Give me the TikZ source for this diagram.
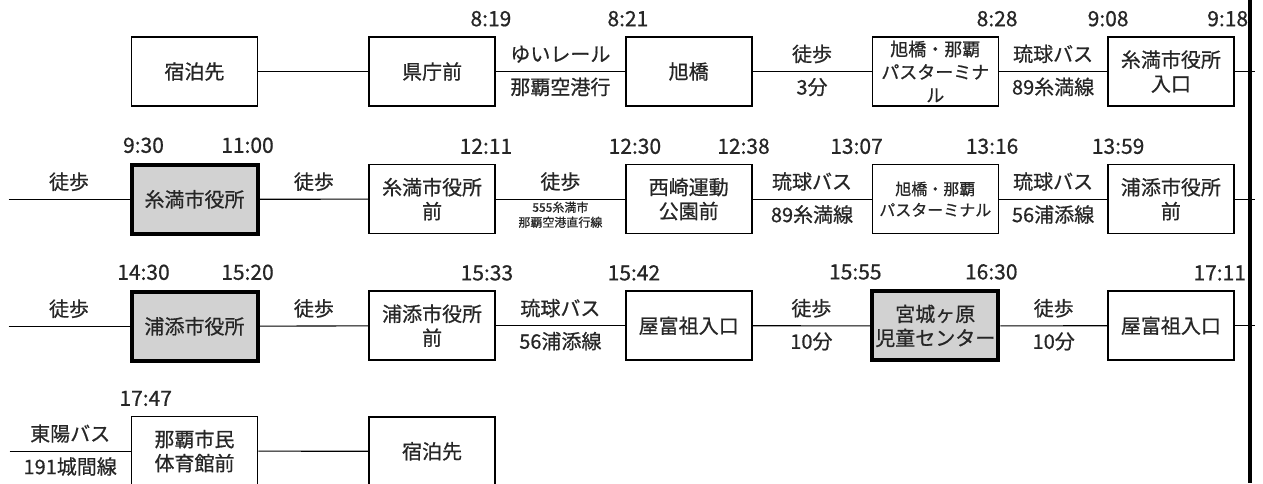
\documentclass[tikz,border=0pt]{standalone}
\usepackage{fontspec}
\setmainfont{Noto Sans CJK JP}[RawFeature={embolden=0.7}]
\usetikzlibrary{positioning}

\tikzset{
	stopbox/.style={draw, line width=1.6pt, minimum width=126pt, minimum height=69pt, inner sep=0pt, align=center, font=\fontsize{20}{24}\selectfont},
	visitbox/.style={stopbox, fill=gray!35, line width=4pt},
	clock/.style={anchor=base, yshift=10pt, inner sep=0pt, font=\fontsize{21}{24}\selectfont},
	lineabove/.style={anchor=base, yshift=10pt, inner sep=0pt, font=\fontsize{20}{24}\selectfont},
	linebelow/.style={anchor=base, yshift=-23pt, inner sep=0pt, font=\fontsize{20}{24}\selectfont},
	smallnote/.style={below, inner sep=2pt, align=center, font=\fontsize{12}{15}\selectfont}
}

\begin{document}
\begin{tikzpicture}[x=1pt, y=-1pt, every node/.style={text=black!85}, every edge/.append style={line width=1.1pt}]
		\useasboundingbox (0,0) rectangle (1263,483);
		
		\node[stopbox] (A1) at (194.5,71.5) {宿泊先};
		\node[stopbox, right = 110pt of A1] (A2) {県庁前};
		\node[stopbox, right = 129pt of A2] (A3) {旭橋};
		\node[stopbox, right = 119pt of A3, font=\fontsize{18}{23}\selectfont] (A4) {旭橋・那覇\\パスターミナ\\ル};
		\node[stopbox, right = 108pt of A4] (A5) {糸満市役所\\入口};
		\coordinate[right = 20pt of A5] (A6);
		
		\node[visitbox, below = 56pt of A1] (B1) {糸満市役所};
		\node[stopbox, below = 57pt of A2] (B2) {糸満市役所\\前};
		\node[stopbox, below = 57pt of A3] (B3) {西崎運動\\公園前};
		\node[stopbox, below = 57pt of A4, font=\fontsize{16}{21}\selectfont] (B4) {旭橋・那覇\\パスターミナル};
		\node[stopbox, below = 57pt of A5] (B5) {浦添市役所\\前};
		\coordinate[left = 121pt of B1] (B0);
		\coordinate[right = 20pt of B5] (B6);
		
		\node[visitbox, below = 54pt of B1] (C1) {浦添市役所};
		\node[stopbox, below = 56pt of B2] (C2) {浦添市役所\\前};
		\node[stopbox, below = 56pt of B3] (C3) {屋富祖入口};
		\node[visitbox, below = 55pt of B4] (C4) {宮城ヶ原\\児童センター};
		\node[stopbox, below = 56pt of B5] (C5) {屋富祖入口};
		\coordinate[left = 121pt of C1] (C0);
		\coordinate[right = 20pt of C5] (C6);
		
		\node[stopbox, below = 53pt of C1] (D1) {那覇市民\\体育館前};
		\node[stopbox, below = 55pt of C2] (D2) {宿泊先};
		\coordinate[left = 121pt of D1] (D0);
		
		\coordinate (R1) at (1250,0);
		\coordinate (R2) at (1250,483);
		\draw[line width=4pt] (R1) -- (R2);
		
		\path (A1) edge (A2);
		\path (A2) edge node[lineabove] {ゆいレール} node[linebelow] {那覇空港行} (A3);
		\path (A3) edge node[lineabove] {徒歩} node[linebelow] {3分} (A4);
		\path (A4) edge node[lineabove] {琉球バス} node[linebelow] {89糸満線} (A5);
		\path (A5) edge (A6);
		
		\path (B0) edge node[lineabove] {徒歩} (B1);
		\path (B1) edge node[lineabove] {徒歩} (B2);
		\path (B2) edge node[lineabove] {徒歩} node[smallnote] {555糸満市\\那覇空港直行線} (B3);
		\path (B3) edge node[lineabove] {琉球バス} node[linebelow] {89糸満線} (B4);
		\path (B4) edge node[lineabove] {琉球バス} node[linebelow] {56浦添線} (B5);
		\path (B5) edge (B6);
		
		\path (C0) edge node[lineabove] {徒歩} (C1);
		\path (C1) edge node[lineabove] {徒歩} (C2);
		\path (C2) edge node[lineabove] {琉球バス} node[linebelow] {56浦添線} (C3);
		\path (C3) edge node[lineabove] {徒歩} node[linebelow] {10分} (C4);
		\path (C4) edge node[lineabove] {徒歩} node[linebelow] {10分} (C5);
		\path (C5) edge (C6);
		
		\path (D0) edge node[lineabove] {東陽バス} node[linebelow] {191城間線} (D1);
		\path (D1) edge (D2);
		
		\node[clock, xshift=-5pt] at (A2.north east) {8:19};
		\node[clock, xshift=3pt] at (A3.north west) {8:21};
		\node[clock, xshift=-2pt] at (A4.north east) {8:28};
		\node[clock, xshift=1pt] at (A5.north west) {9:08};
		\node[clock, xshift=-7pt] at (A5.north east) {9:18};
		
		\node[clock, xshift=14pt] at (B1.north west) {9:30};
		\node[clock, xshift=-12pt] at (B1.north east) {11:00};
		\node[clock, xshift=-10pt] at (B2.north east) {12:11};
		\node[clock, xshift=10pt] at (B3.north west) {12:30};
		\node[clock, xshift=-9pt] at (B3.north east) {12:38};
		\node[clock, xshift=-15pt] at (B4.north west) {13:07};
		\node[clock, xshift=-7pt] at (B4.north east) {13:16};
		\node[clock, xshift=11pt] at (B5.north west) {13:59};
		
		\node[clock, xshift=14pt] at (C1.north west) {14:30};
		\node[clock, xshift=-12pt] at (C1.north east) {15:20};
		\node[clock, xshift=-9pt] at (C2.north east) {15:33};
		\node[clock, xshift=9pt] at (C3.north west) {15:42};
		\node[clock, xshift=-15pt] at (C4.north west) {15:55};
		\node[clock, xshift=-9pt] at (C4.north east) {16:30};
		\node[clock, xshift=-15pt] at (C5.north east) {17:11};
		
		\node[clock, xshift=15pt] at (D1.north west) {17:47};
	\end{tikzpicture}
\end{document}
